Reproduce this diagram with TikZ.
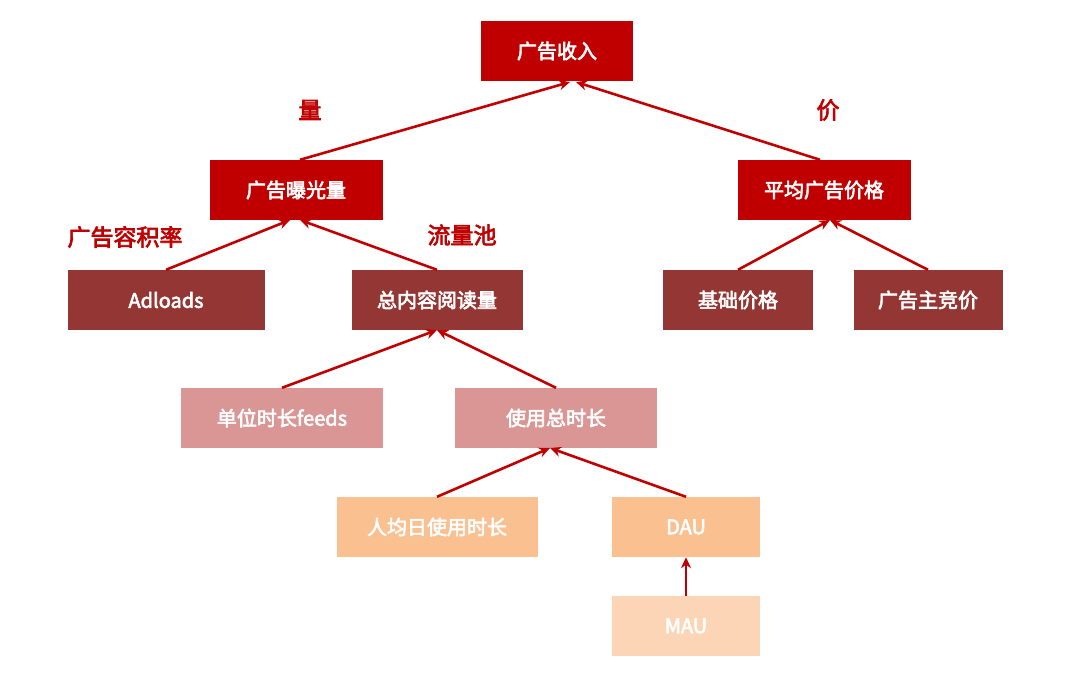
\documentclass[tikz,border=0pt]{standalone}
\usepackage{fontspec}
\setmainfont{Noto Sans CJK SC}[AutoFakeBold=3]
\usetikzlibrary{arrows.meta}
\definecolor{cA}{HTML}{C00000}
\definecolor{cB}{HTML}{943634}
\definecolor{cC}{HTML}{D99694}
\definecolor{cD}{HTML}{FAC090}
\definecolor{cE}{HTML}{FBD5B5}
\definecolor{lr}{HTML}{C00000}
\tikzset{
 bx/.style={minimum height=60pt,text=white,font=\fontsize{20pt}{20pt}\selectfont\bfseries,inner sep=0pt},
 ar/.style={draw=lr,line width=2.6pt,-{Stealth[length=11pt,width=10pt]}},
 lb/.style={text=lr,font=\fontsize{23pt}{23pt}\selectfont\bfseries}
}
\begin{document}
\begin{tikzpicture}[x=1pt,y=-1pt]
\useasboundingbox (0,0) rectangle (1080,674);
\node[bx,fill=cA,minimum width=152pt] (r) at (557,51) {广告收入};
\node[bx,fill=cA,minimum width=173pt] (e) at (296,190) {广告曝光量};
\node[bx,fill=cA,minimum width=173pt] (p) at (824,190) {平均广告价格};
\node[bx,fill=cB,minimum width=197pt] (ad) at (166,300) {Adloads};
\node[bx,fill=cB,minimum width=171pt] (tc) at (437,300) {总内容阅读量};
\node[bx,fill=cB,minimum width=150pt] (bp) at (738,300) {基础价格};
\node[bx,fill=cB,minimum width=149pt] (bid) at (928,300) {广告主竞价};
\node[bx,fill=cC,minimum width=202pt] (uf) at (282,418) {单位时长feeds};
\node[bx,fill=cC,minimum width=202pt] (tt) at (556,418) {使用总时长};
\node[bx,fill=cD,minimum width=201pt] (pu) at (437,527) {人均日使用时长};
\node[bx,fill=cD,minimum width=148pt] (dau) at (686,527) {DAU};
\node[bx,fill=cE,minimum width=148pt] (mau) at (686,626) {MAU};
\coordinate (r1) at (570,82);\coordinate (r2) at (576,82);
\coordinate (e1) at (290,220);\coordinate (e2) at (300,220);
\coordinate (p1) at (830,220);
\coordinate (t1) at (437,330);
\coordinate (s1) at (550,448);
\draw[ar] (e.north) ++(4,0) -- (r1);
\draw[ar] (p.north) ++(-4,0) -- (r2);
\draw[ar] (ad.north) -- (e1);
\draw[ar] (tc.north) -- (e2);
\draw[ar] (bp.north) -- (p1);
\draw[ar] (bid.north) -- (p1);
\draw[ar] (uf.north) -- (t1);
\draw[ar] (tt.north) -- (t1);
\draw[ar] (pu.north) -- (s1);
\draw[ar] (dau.north) -- (s1);
\draw[ar] (mau.north) -- (dau.south);
\node[lb] (l1) at (310,110) {量};
\node[lb] (l2) at (828,110) {价};
\node[lb] (l3) at (125,237) {广告容积率};
\node[lb] (l4) at (462,235) {流量池};
\end{tikzpicture}
\end{document}
